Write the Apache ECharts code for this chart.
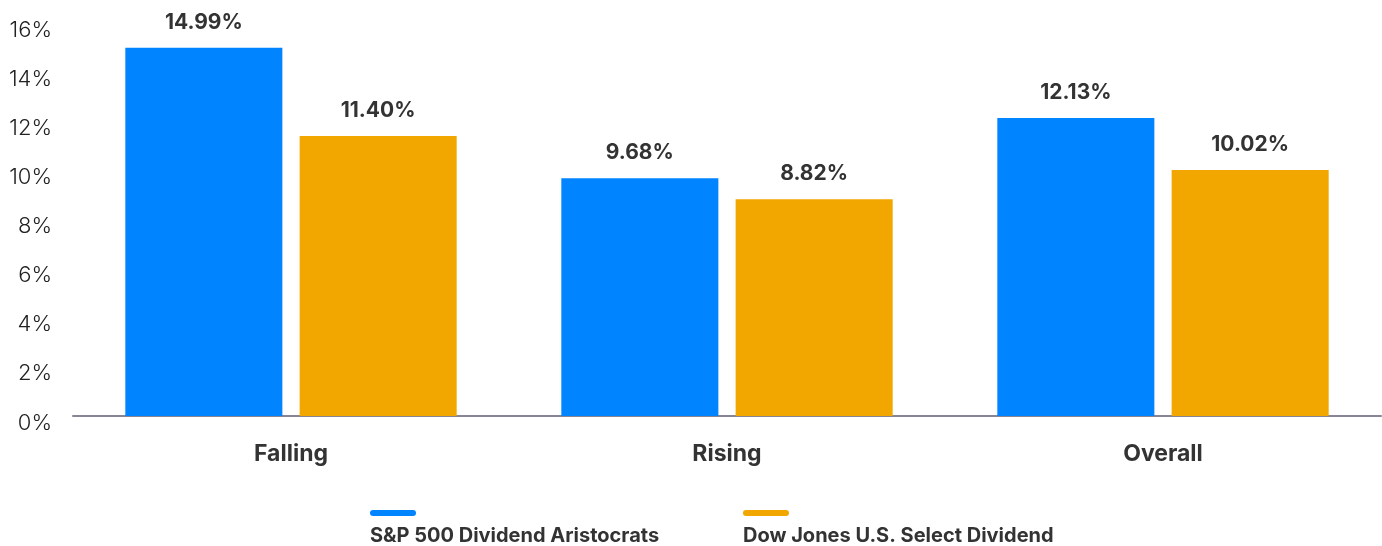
<!DOCTYPE html>
<html>
<head>
<meta charset="utf-8">
<script src="https://cdn.jsdelivr.net/npm/echarts@6/dist/echarts.min.js"></script>
<style>html,body{margin:0;padding:0;background:#fff;}#c{width:1382px;height:546px;}</style>
</head>
<body>
<div id="c"></div>
<script>
const categories = ['Falling', 'Rising', 'Overall'];
const seriesNames = ['S&P 500 Dividend Aristocrats', 'Dow Jones U.S. Select Dividend'];
const aristocrats = [14.99, 9.68, 12.13];
const selectDividend = [11.40, 8.82, 10.02];
const yTicks = [0, 16, 2];
const colors = ['#0084FF', '#F2A600'];
const FONT = 'Inter';

const chart = echarts.init(document.getElementById('c'), null, {renderer: 'canvas'});
function legendFor(i, left) {
  const key = 'b' + i;
  const rich = {t: {fontFamily: FONT, fontSize: 20, fontWeight: 'bold', color: '#333', lineHeight: 24}};
  rich[key] = {width: 46, height: 6, backgroundColor: colors[i], borderRadius: 3, lineHeight: 22};
  return {
    data: [{name: seriesNames[i], icon: 'none'}],
    left: left, top: 502, itemWidth: 0, itemHeight: 0, selectedMode: false,
    formatter: function (n) { return '{' + key + '|}\n{t|' + n + '}'; },
    textStyle: {rich: rich, align: 'left'}
  };
}
chart.setOption({
  animation: false,
  color: colors,
  grid: {left: 73, right: 1, top: 23, bottom: 130, containLabel: false},
  legend: [legendFor(0, 360), legendFor(1, 733)],
  xAxis: {
    type: 'category', data: categories,
    axisLine: {lineStyle: {color: '#868696', width: 2}},
    axisTick: {show: false},
    axisLabel: {fontFamily: FONT, fontSize: 23, fontWeight: 'bold', color: '#333', margin: 27}
  },
  yAxis: {
    type: 'value', min: yTicks[0], max: yTicks[1], interval: yTicks[2],
    splitLine: {show: false}, axisLine: {show: false}, axisTick: {show: false},
    axisLabel: {formatter: '{value}%', fontFamily: FONT, fontSize: 22, fontWeight: 300, color: '#222', margin: 21, verticalAlign: 'top', lineHeight: 14}
  },
  series: [aristocrats, selectDividend].map(function (d, i) {
    return {
      name: seriesNames[i], type: 'bar', data: d,
      barGap: '11%', barCategoryGap: '24%',
      itemStyle: {color: colors[i]},
      label: {show: true, position: 'top', distance: 15, formatter: function (p) { return p.value.toFixed(2) + '%'; },
        fontFamily: FONT, fontSize: 21, fontWeight: 'bold', color: '#333'}
    };
  })
});
</script>
</body>
</html>
